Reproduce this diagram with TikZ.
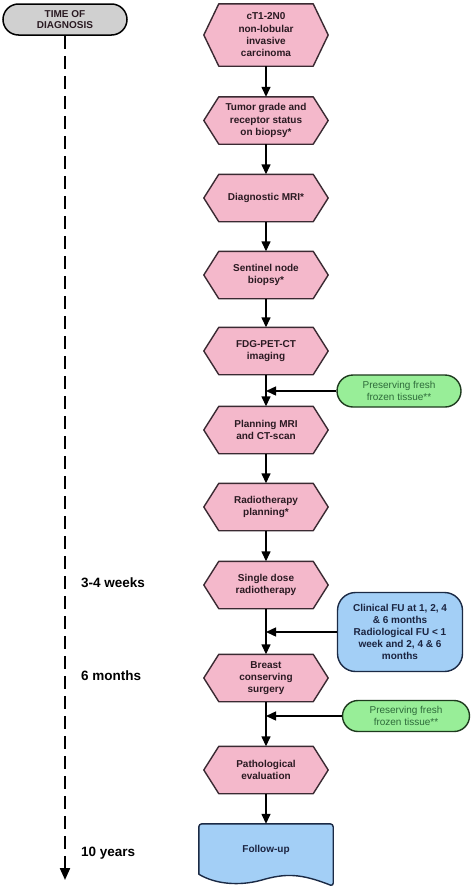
\documentclass[tikz,border=0pt]{standalone}
\usepackage{fontspec}
\setmainfont{Liberation Sans}
\usetikzlibrary{shapes.misc,arrows.meta,calc,backgrounds}
\definecolor{pinkfill}{HTML}{F4B8CB}
\definecolor{pinkline}{HTML}{3A2A32}
\definecolor{pinktext}{HTML}{2A1A22}
\definecolor{greenfill}{HTML}{98EE98}
\definecolor{greenline}{HTML}{1E3A1E}
\definecolor{greentext}{HTML}{2E6B3A}
\definecolor{bluefill}{HTML}{A3CFF6}
\definecolor{blueline}{HTML}{1B2A45}
\definecolor{bluetext}{HTML}{1B2440}
\definecolor{pillfill}{HTML}{D0D0D0}
\begin{document}
\begin{tikzpicture}[x=1pt,y=-1pt,
  hexbox/.style={minimum width=124pt,minimum height=47pt,inner sep=0pt,align=center,
    font=\bfseries\fontsize{10}{12.3}\selectfont,text=pinktext},
  hexline/.style={draw=pinkline,fill=pinkfill,line width=1.4pt,line join=round},
  arr/.style={line width=1.4pt,-{Triangle[length=10pt,width=9pt]}},
  sidegreen/.style={rounded rectangle,draw=greenline,fill=greenfill,line width=1.4pt,
    minimum width=124pt,minimum height=32pt,inner sep=0pt,align=center,
    font=\fontsize{10}{12}\selectfont,text=greentext},
  timelabel/.style={anchor=west,font=\bfseries\fontsize{13.5}{15}\selectfont,inner sep=0pt}]
\useasboundingbox (0,0) rectangle (472,889);

% main column
\node[hexbox,minimum height=62pt] (h1) at (266,35) {cT1-2N0\\non-lobular\\invasive\\carcinoma};
\node[hexbox] (h2) at (266,120.5) {Tumor grade and\\receptor status\\on biopsy*};
\node[hexbox] (h3) at (266,198) {Diagnostic MRI*};
\node[hexbox] (h4) at (266,275) {Sentinel node\\biopsy*};
\node[hexbox] (h5) at (266,351) {FDG-PET-CT\\imaging};
\node[hexbox] (h6) at (266,430) {Planning MRI\\and CT-scan};
\node[hexbox] (h7) at (266,507) {Radiotherapy\\planning*};
\node[hexbox] (h8) at (266,585) {Single dose\\radiotherapy};
\node[hexbox] (h9) at (266,678) {Breast\\conserving\\surgery};
\node[hexbox] (h10) at (266,770) {Pathological\\evaluation};
\node[minimum width=134pt,minimum height=52pt,inner sep=0pt,
  font=\bfseries\fontsize{10}{12}\selectfont,text=bluetext] (fu) at (266,850) {Follow-up};

\begin{scope}[on background layer]
\fill[white] (0,0) rectangle (472,889);
\foreach \n in {h1,h2,h3,h4,h5,h6,h7,h8,h9,h10}
  \draw[hexline] (\n.west) -- ([xshift=15pt]\n.north west) -- ([xshift=-15pt]\n.north east)
    -- (\n.east) -- ([xshift=-15pt]\n.south east) -- ([xshift=15pt]\n.south west) -- cycle;
\draw[draw=blueline,fill=bluefill,line width=1.4pt,line join=round,rounded corners=3pt]
  ($(fu.south west)+(0,-2)$) -- (fu.north west) -- (fu.north east) -- ($(fu.south east)+(0,10)$)
  [sharp corners] .. controls ($(fu.south east)+(-33,-3)$) and ($(fu.south east)+(-48,-3)$) ..
  ($(fu.south east)+(-72,4)$) .. controls ($(fu.south east)+(-94,10)$) and ($(fu.south east)+(-118,8)$) ..
  ($(fu.south west)+(0,-2)$) -- cycle;
\end{scope}

% time axis
\node[rounded rectangle,draw=black,fill=pillfill,line width=1.5pt,minimum width=124pt,
  minimum height=31pt,inner sep=0pt,align=center,
  font=\bfseries\fontsize{10}{11.5}\selectfont,text=pinktext] (tp) at (65,19.5) {TIME OF\\DIAGNOSIS};
\coordinate (tend) at (65,880);
\draw[line width=2.2pt,dash pattern=on 13pt off 7pt,
  -{Triangle[length=12pt,width=10pt]}] (tp.south) -- (tend);
\node[timelabel] (t1) at (81,583) {3-4 weeks};
\node[timelabel] (t2) at (81,676) {6 months};
\node[timelabel] (t3) at (81,853) {10 years};

% side nodes
\node[sidegreen] (g1) at (399,391) {Preserving fresh\\frozen tissue**};
\node[rectangle,rounded corners=18pt,draw=blueline,fill=bluefill,line width=1.4pt,
  minimum width=125pt,minimum height=79pt,inner sep=0pt,align=center,
  font=\bfseries\fontsize{10}{12.2}\selectfont,text=bluetext] (b1) at (400,632)
  {Clinical FU at 1, 2, 4\\\& 6 months\\Radiological FU < 1\\week and 2, 4 \& 6\\months};
\node[sidegreen,minimum width=127pt,minimum height=31pt] (g2) at (406,716) {Preserving fresh\\frozen tissue**};

% connectors
\draw[arr] (h1.south) -- (h2.north);
\draw[arr] (h2.south) -- (h3.north);
\draw[arr] (h3.south) -- (h4.north);
\draw[arr] (h4.south) -- (h5.north);
\draw[arr] (h5.south) -- (h6.north);
\draw[arr] (h6.south) -- (h7.north);
\draw[arr] (h7.south) -- (h8.north);
\draw[arr] (h8.south) -- (h9.north);
\draw[arr] (h9.south) -- (h10.north);
\draw[arr] (h10.south) -- (fu.north);
\draw[arr] (g1.west) -- (g1.west -| h5.south);
\draw[arr] (b1.west) -- (b1.west -| h8.south);
\draw[arr] (g2.west) -- (g2.west -| h9.south);
\end{tikzpicture}
\end{document}
